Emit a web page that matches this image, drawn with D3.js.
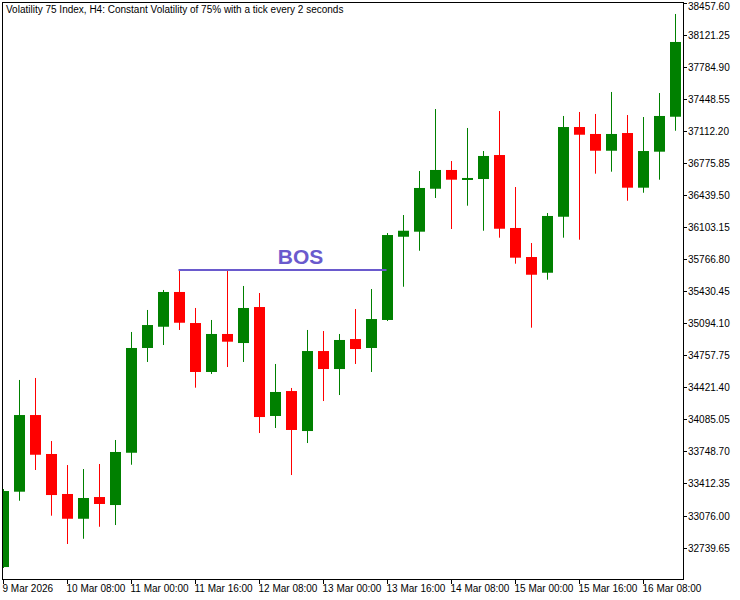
<!DOCTYPE html>
<html><head><meta charset="utf-8">
<script src="https://cdn.jsdelivr.net/npm/d3@7"></script>
<style>body{margin:0;background:#fff}svg{display:block}</style>
</head><body><svg id="c" width="740" height="600"></svg>
<script>
const opens  = [32535,33326,34131,33722,33302,33042,33270,33186,33735,34835,35058,35423,35097,34583,34982,34887,35265,34121,34383,33963,34803,34614,34929,34835,35129,36003,36056,36507,36704,36599,36609,36861,36095,35790,35625,36213,37155,37082,36906,37092,36518,36896,37263];
const highs  = [33354,34499,34520,33858,33606,33564,33617,33869,35003,35234,35444,35654,35255,35129,35654,35486,35412,34667,34415,35024,35013,34982,35244,35454,36042,36231,36693,37344,36798,37145,36903,37323,36525,35937,36252,37271,37313,37292,37523,37281,37260,37512,38342];
const lows   = [32525,33231,33554,33074,32777,32832,32958,32976,33609,34688,34866,35024,34418,34562,34635,34688,33942,33995,33501,33837,34278,34341,34667,34583,35118,35478,35856,36410,36084,36329,36066,35993,35720,35048,35552,35993,35972,36665,36686,36381,36465,36602,37116];
const closes = [33333,34131,33714,33291,33042,33260,33197,33743,34835,35076,35423,35100,34583,34982,34901,35255,34110,34373,33974,34803,34614,34919,34824,35139,36021,36066,36515,36704,36602,36620,36851,36087,35783,35604,36221,37155,37074,36906,37082,36518,36903,37271,38048];
const yTickLabels = ["38457.60","38121.25","37784.90","37448.55","37112.20","36775.85","36439.50","36103.15","35766.80","35430.45","35094.10","34757.75","34421.40","34085.05","33748.70","33412.35","33076.00","32739.65"];
const xTickLabels = ["9 Mar 2026","10 Mar 08:00","11 Mar 00:00","11 Mar 16:00","12 Mar 08:00","13 Mar 00:00","13 Mar 16:00","14 Mar 08:00","15 Mar 00:00","15 Mar 16:00","16 Mar 08:00"];
const bosStart = 11, bosEnd = 24, bosLevel = 35654;
const title = "Volatility 75 Index, H4:  Constant Volatility of 75% with a tick every 2 seconds";

const svg = d3.select("#c");
const L = 2, T = 2, R = 683, B = 579;
const font = "'Liberation Sans', Arial, sans-serif";
const y = d3.scaleLinear().domain([32409.4, 38467.7]).range([B, T]);
const x = d3.scaleLinear().domain([0, 1]).range([2.5, 18.5]);
const data = opens.map((o,i)=>({i,o,h:highs[i],l:lows[i],c:closes[i]}));

svg.append("clipPath").attr("id","cp").append("rect").attr("x",L).attr("y",T).attr("width",R-L).attr("height",B-T);
const g = svg.append("g").attr("clip-path","url(#cp)");
const col = d => d.c >= d.o ? "#008000" : "#ff0000";
g.selectAll("line.w").data(data).join("line")
  .attr("x1",d=>Math.round(x(d.i))+0.5).attr("x2",d=>Math.round(x(d.i))+0.5)
  .attr("y1",d=>y(d.h)).attr("y2",d=>y(d.l)).attr("stroke",col).attr("stroke-width",1);
g.selectAll("rect.b").data(data).join("rect")
  .attr("x",d=>Math.round(x(d.i))-5).attr("width",11)
  .attr("y",d=>y(Math.max(d.o,d.c))).attr("height",d=>Math.max(2,Math.abs(y(d.o)-y(d.c))))
  .attr("fill",col);

// BOS
svg.append("line").attr("x1",x(bosStart)).attr("x2",x(bosEnd)).attr("y1",y(bosLevel)).attr("y2",y(bosLevel))
  .attr("stroke","#6a5acd").attr("stroke-width",2);
svg.append("text").attr("x",(x(bosStart)+x(bosEnd))/2+18).attr("y",y(bosLevel)-6).attr("text-anchor","middle")
  .attr("font-family","'Liberation Sans', Arial, sans-serif").attr("font-weight","bold").attr("font-size",21)
  .attr("fill","#6a5acd").text("BOS");

// frame
svg.append("rect").attr("x",L+0.5).attr("y",T+0.5).attr("width",R-L).attr("height",B-T).attr("fill","none").attr("stroke","#000");

// y axis
const yVals = yTickLabels.map(Number);
const ya = svg.append("g");
ya.selectAll("line").data(yVals).join("line").attr("x1",R).attr("x2",R+4)
  .attr("y1",d=>Math.round(y(d))+0.5).attr("y2",d=>Math.round(y(d))+0.5).attr("stroke","#000");
ya.selectAll("text").data(yTickLabels).join("text").attr("x",R+5).attr("y",d=>Math.max(10,y(+d)+4))
  .attr("font-family",font).attr("font-size",10).attr("fill","#000").text(d=>d);

// x axis
const xa = svg.append("g");
xa.selectAll("line").data(xTickLabels).join("line").attr("x1",(d,i)=>Math.round(x(i*4))+0.5).attr("x2",(d,i)=>Math.round(x(i*4))+0.5)
  .attr("y1",B).attr("y2",B+5).attr("stroke","#000");
xa.selectAll("text").data(xTickLabels).join("text").attr("x",(d,i)=>x(i*4)).attr("y",B+13)
  .attr("font-family",font).attr("font-size",10).attr("fill","#000").text(d=>d);

svg.append("text").attr("x",6).attr("y",13).attr("font-family",font).attr("font-size",10).attr("fill","#000").text(title);
</script></body></html>
